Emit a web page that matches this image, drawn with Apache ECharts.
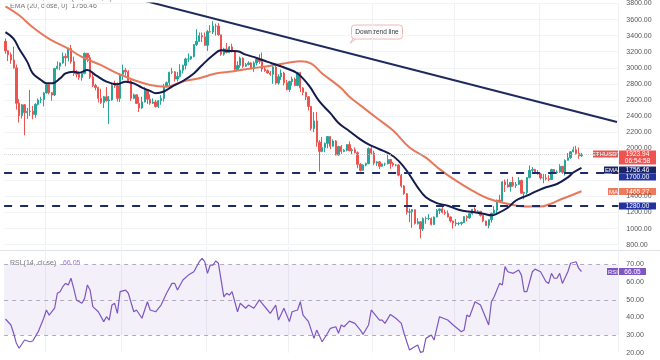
<!DOCTYPE html>
<html><head><meta charset="utf-8">
<script src="https://cdn.jsdelivr.net/npm/echarts@6/dist/echarts.min.js"></script>
<style>html,body{margin:0;padding:0;background:#fff}#c{width:660px;height:360px}</style>
</head><body><div id="c"></div>
<script>
// ETHUSDT daily candles, Jan 17 2022 -> Aug 16 2022 : [open, close, low, high]
const candles = [
[3330,3212,3175,3365],[3212,3164,3085,3218],[3164,3096,3050,3190],[3096,3000,2990,3262],[3000,2560,2480,3040],
[2560,2406,2320,2610],[2406,2540,2370,2550],[2540,2442,2160,2550],[2442,2458,2365,2500],[2458,2460,2400,2725],
[2460,2420,2360,2525],[2420,2546,2380,2560],[2546,2600,2530,2620],[2600,2605,2560,2640],[2605,2688,2520,2700],
[2688,2790,2680,2810],[2790,2690,2670,2810],[2690,2662,2590,2700],[2662,2990,2650,3000],[2990,3020,2980,3080],
[3020,3060,2970,3065],[3060,3143,3050,3190],[3143,3125,3020,3180],[3125,3240,3080,3250],[3240,3078,3050,3285],
[3078,2930,2900,3140],[2930,2920,2880,2970],[2920,2880,2850,2950],[2880,2930,2840,2940],[2930,3180,2920,3190],
[3180,3125,3070,3180],[3125,2885,2860,3160],[2885,2780,2760,2950],[2780,2755,2720,2800],[2755,2620,2570,2765],
[2620,2570,2550,2740],[2570,2640,2500,2650],[2640,2590,2580,2760],[2590,2600,2300,2650],[2600,2780,2590,2800],
[2780,2777,2750,2840],[2777,2620,2580,2820],[2620,2920,2575,2930],[2920,2970,2850,3040],[2970,2950,2900,3000],
[2950,2834,2810,2970],[2834,2620,2590,2850],[2620,2664,2610,2680],[2664,2557,2550,2670],[2557,2500,2450,2640],
[2500,2575,2490,2640],[2575,2725,2570,2760],[2725,2610,2550,2730],[2610,2560,2540,2670],[2560,2575,2550,2620],
[2575,2520,2505,2600],[2520,2590,2500,2600],[2590,2620,2540,2660],[2620,2770,2580,2800],[2770,2815,2760,2830],
[2815,2945,2750,2950],[2945,2950,2920,3000],[2950,2860,2830,2960],[2860,2895,2830,2950],[2895,2970,2880,3045],
[2970,3030,2930,3040],[3030,3110,2980,3125],[3110,3110,3070,3180],[3110,3140,3100,3150],[3140,3290,3130,3290],
[3290,3330,3270,3480],[3330,3400,3320,3440],[3400,3385,3320,3440],[3385,3280,3275,3440],[3280,3450,3210,3470],
[3450,3445,3440,3530],[3445,3520,3420,3580],[3520,3520,3400,3550],[3520,3410,3400,3555],[3410,3170,3150,3410],
[3170,3235,3150,3250],[3235,3190,3180,3310],[3190,3260,3180,3270],[3260,3210,3190,3300],[3210,2980,2960,3220],
[2980,3030,2970,3080],[3030,3120,3000,3140],[3120,3020,3000,3130],[3020,3040,3010,3060],[3040,3060,3030,3080],
[3060,2990,2985,3070],[2990,3060,2950,3080],[3060,3105,3030,3120],[3105,3080,3050,3170],[3080,2985,2950,3190],
[2985,2965,2950,3020],[2965,2935,2930,2980],[2935,2920,2900,2960],[2920,3010,2800,3025],[3010,2810,2790,3040],
[2810,2890,2790,2920],[2890,2935,2850,2980],[2935,2815,2780,2950],[2815,2730,2720,2850],[2730,2830,2700,2840],
[2830,2860,2780,2890],[2860,2780,2770,2880],[2780,2940,2770,2950],[2940,2750,2700,2950],[2750,2695,2660,2760],
[2695,2640,2600,2700],[2640,2520,2470,2650],[2520,2245,2220,2525],[2245,2340,2200,2450],[2340,2075,2020,2450],
[2075,1960,1710,2100],[1960,2010,1950,2140],[2010,2060,1950,2070],[2060,2145,2000,2150],[2145,2025,1990,2150],
[2025,2090,2020,2110],[2090,1915,1910,2100],[1915,2020,1905,2030],[2020,1960,1930,2040],[1960,1975,1950,1990],
[1975,2045,1960,2050],[2045,1970,1960,2085],[1970,1980,1925,2000],[1980,1945,1935,2010],[1945,1800,1750,1960],
[1800,1725,1710,1815],[1725,1790,1720,1800],[1790,1810,1775,1820],[1810,1995,1800,2010],[1995,1940,1920,2015],
[1940,1815,1790,1970],[1815,1830,1780,1840],[1830,1775,1740,1840],[1775,1805,1770,1810],[1805,1805,1780,1820],
[1805,1860,1800,1920],[1860,1810,1745,1865],[1810,1790,1770,1830],[1790,1790,1775,1800],[1790,1665,1650,1800],
[1665,1530,1510,1680],[1530,1435,1420,1540],[1435,1205,1175,1440],[1205,1210,1080,1250],[1210,1235,1010,1245],
[1235,1065,1050,1240],[1065,1085,1050,1130],[1085,995,880,1090],[995,1125,970,1140],[1125,1125,1060,1150],
[1125,1125,1105,1180],[1125,1050,1040,1140],[1050,1145,1045,1150],[1145,1225,1140,1245],[1225,1245,1180,1250],
[1245,1200,1190,1280],[1200,1190,1170,1235],[1190,1145,1140,1225],[1145,1095,1075,1150],[1095,1070,1000,1100],
[1070,1060,1030,1120],[1060,1065,1040,1080],[1065,1075,1040,1085],[1075,1150,1070,1155],[1150,1135,1090,1165],
[1135,1185,1120,1195],[1185,1240,1175,1245],[1240,1215,1195,1265],[1215,1215,1205,1230],[1215,1165,1150,1220],
[1165,1095,1080,1170],[1095,1040,1035,1100],[1040,1110,1005,1115],[1110,1190,1075,1200],[1190,1230,1180,1280],
[1230,1355,1190,1360],[1355,1340,1330,1420],[1340,1580,1335,1590],[1580,1545,1455,1610],[1545,1520,1510,1620],
[1520,1575,1460,1580],[1575,1535,1520,1645],[1535,1550,1505,1580],[1550,1600,1545,1640],[1600,1440,1435,1610],
[1440,1450,1365,1460],[1450,1635,1425,1640],[1635,1725,1625,1785],[1725,1735,1690,1765],[1735,1695,1680,1745],
[1695,1680,1670,1730],[1680,1630,1610,1690],[1630,1630,1565,1680],[1630,1620,1600,1680],[1620,1610,1590,1665],
[1610,1735,1605,1745],[1735,1695,1690,1740],[1695,1705,1680,1725],[1705,1775,1695,1800],[1775,1700,1680,1780],
[1700,1850,1660,1860],[1850,1880,1845,1940],[1880,1955,1870,1960],[1955,1980,1950,2020],[1980,1935,1920,2030],
[1935,1905,1870,2010],[1905,1923.94,1890,1940]
];
// EMA(20): [candle index, value]
const ema20 = [[0,3444],[3,3361],[5,3238],[8,3074],[10,2930],[13,2849],[15,2807],[17,2807],[20,2868],[22,2930],[25,2951],[27,2939],[30,2972],[33,2910],[37,2828],[41,2795],[44,2828],[47,2807],[50,2754],[53,2713],[55,2684],[58,2705],[61,2766],[65,2836],[69,2930],[72,3033],[76,3156],[79,3218],[81,3210],[85,3206],[88,3164],[92,3123],[96,3074],[99,3041],[103,2992],[107,2930],[111,2787],[115,2582],[119,2437],[122,2314],[126,2212],[130,2110],[133,2048],[137,1987],[141,1925],[144,1843],[147,1720],[151,1514],[154,1391],[158,1317],[162,1285],[166,1235],[171,1206],[175,1186],[178,1165],[180,1186],[184,1260],[187,1350],[191,1411],[195,1473],[198,1514],[202,1555],[206,1637],[208,1698],[211,1756.46]];
// MA(50)
const ma50 = [[0,3764],[5,3653],[10,3505],[16,3361],[23,3238],[28,3136],[35,3033],[41,2930],[47,2849],[53,2787],[59,2766],[65,2830],[71,2870],[77,2930],[83,2955],[90,2992],[96,3020],[102,3053],[104,3065],[108,3082],[112,3053],[116,2930],[120,2828],[123,2745],[126,2640],[129,2560],[136,2376],[142,2220],[148,2010],[154,1883],[159,1740],[165,1596],[171,1473],[177,1371],[184,1309],[190,1276],[196,1276],[199,1300],[204,1371],[211,1465.27]];
// RSI(14)
const rsi14 = [[0,39.1],[2,35.7],[3,31],[4,25.3],[5,22.5],[7,27.2],[9,26.2],[10,26.6],[12,31.9],[13,35.7],[14,39.5],[15,44.2],[16,41.3],[18,45.2],[19,53.7],[20,54.6],[21,57.4],[22,59.3],[23,58.4],[24,62.2],[25,56.5],[26,49.9],[28,48],[29,50.8],[30,58.4],[31,55.5],[32,46.1],[34,43.2],[36,37.6],[37,40.4],[38,38.5],[39,47],[40,48],[41,42.3],[42,54.6],[44,55.5],[45,53.7],[47,43.2],[48,44.2],[50,39.5],[52,48.9],[53,44.2],[55,43.2],[57,47],[59,53.7],[61,59.3],[62,59.3],[63,55.5],[65,61.2],[67,64],[69,65.9],[71,71.6],[72,73.5],[73,71.6],[74,65],[75,69.7],[76,69.7],[77,72],[78,70.7],[80,51.7],[81,53.7],[82,52.7],[83,54.6],[85,43.2],[86,48],[88,45.2],[89,47],[91,45.2],[93,49.9],[94,48],[96,44.2],[97,42.3],[99,47],[100,38.5],[102,45.2],[104,37.6],[105,43.2],[107,44.2],[108,48.9],[109,41.3],[111,37.6],[113,28.1],[114,32.8],[116,26.2],[118,31],[119,33.8],[121,34.7],[122,31],[123,35.7],[124,34.7],[126,37.9],[128,36.6],[130,32.8],[131,30.4],[133,35.7],[134,44.2],[135,42.3],[137,38.5],[138,38.5],[139,36.6],[141,41.7],[143,39.5],[145,36.6],[146,31],[147,26.2],[148,21.5],[149,22.5],[151,24.3],[152,20.2],[153,20.6],[154,28.1],[156,30],[157,27.2],[159,40.4],[162,38.5],[164,35.7],[167,31.9],[168,32.8],[169,41.3],[170,40.4],[172,48.9],[174,47],[177,35.7],[178,48.9],[179,51.7],[181,59.3],[182,58.4],[183,68.8],[184,65.9],[186,65],[188,66.9],[189,64],[190,54.6],[191,54.6],[193,65.9],[194,67.4],[196,65.9],[198,60.2],[199,59.3],[200,65],[201,62.2],[202,62.2],[203,65],[204,59.3],[206,65.9],[207,70.7],[209,71.6],[210,67.8],[211,66.05]];
// Downtrend line end points [index, price]
const trendLine = [[50,3842],[224,2326]];
const levels = [1700, 1280];
const lastPrice = 1923.94;
const rsiLevels = [70, 50, 30];
const monthLines = [15,43,74,104,135,165,196];

const padDays = 13;
const categories = [];
const d0 = new Date(2022,0,17);
for (let i=0;i<candles.length+padDays;i++){const d=new Date(d0);d.setDate(d0.getDate()+i);categories.push(d.toISOString().slice(0,10));}

const FONT = 'Liberation Sans';
const gridL = 4.1, gridR = 660 - (4.1 + categories.length*2.73);
const chart = echarts.init(document.getElementById('c'), null, {renderer:'canvas'});
const vLine = {show:true, interval:(i)=>monthLines.includes(i), lineStyle:{color:'#f0f1f4',width:1}};

function tag(x,y,w,h,text,color,fs){
  return {type:'group', z:100, children:[
    {type:'rect', shape:{x:x,y:y,width:w,height:h}, style:{fill:color}},
    {type:'text', x:x+w/2, y:y+h/2+0.5, style:{text:text, fill:'#fff', font:(fs||6.5)+'px '+FONT, align:'center', verticalAlign:'middle'}}
  ]};
}

chart.setOption({
  animation:false,
  backgroundColor:'#fff',
  grid:[
    {left:gridL, right:gridR, top:1.06, height:243.64},
    {left:gridL, right:gridR, top:246.9, height:105.75}
  ],
  xAxis:[
    {type:'category', data:categories, gridIndex:0, boundaryGap:true, axisLine:{show:false}, axisTick:{show:false}, axisLabel:{show:false}, splitLine:vLine},
    {type:'category', data:categories, gridIndex:1, boundaryGap:true, axisLine:{show:false}, axisTick:{show:false}, axisLabel:{show:false}, splitLine:vLine}
  ],
  yAxis:[
    {type:'value', gridIndex:0, position:'right', min:800, max:3800, interval:200, scale:true,
     axisLine:{show:false}, axisTick:{show:false},
     axisLabel:{margin:8, fontSize:7, color:'#555', fontFamily:FONT, formatter:(v)=> (v===1800||v===1600)?'':v.toFixed(2)},
     splitLine:{show:true, lineStyle:{color:'#f3f4f6',width:1}}},
    {type:'value', gridIndex:1, position:'right', min:20, max:80, interval:10,
     axisLine:{show:false}, axisTick:{show:false},
     axisLabel:{margin:8, fontSize:7, color:'#555', fontFamily:FONT, formatter:(v)=> v===80?'':v.toFixed(2)},
     splitLine:{show:false}}
  ],
  series:[
    {type:'candlestick', xAxisIndex:0, yAxisIndex:0, data:candles, barWidth:1.8,
     itemStyle:{color:'#26a69a', color0:'#ef5350', borderColor:'#26a69a', borderColor0:'#ef5350', borderWidth:1},
     markLine:{silent:true, symbol:'none', label:{show:false},
       data:[
         {yAxis:levels[0], lineStyle:{color:'#1d2b6b', width:2, type:[8,8]}},
         {yAxis:levels[1], lineStyle:{color:'#1d2b6b', width:2, type:[8,8]}},
         {yAxis:lastPrice, lineStyle:{color:'rgba(200,200,205,0.8)', width:1, type:'dotted'}}
       ]}},
    {type:'line', xAxisIndex:0, yAxisIndex:0, data:ma50, smooth:0.4, showSymbol:false, lineStyle:{color:'#e8785c', width:2}, z:3},
    {type:'line', xAxisIndex:0, yAxisIndex:0, data:ema20, smooth:0.4, showSymbol:false, lineStyle:{color:'#141b4d', width:2}, z:4},
    {type:'line', xAxisIndex:0, yAxisIndex:0, data:trendLine, showSymbol:false, clip:true, lineStyle:{color:'#1f2a5c', width:2}, z:5},
    {type:'line', xAxisIndex:1, yAxisIndex:1, data:rsi14, showSymbol:false, lineStyle:{color:'#7e57c2', width:1.2}, z:5,
     markArea:{silent:true, itemStyle:{color:'rgba(126,87,194,0.09)'}, data:[[{yAxis:30},{yAxis:70}]]},
     markLine:{silent:true, symbol:'none', label:{show:false}, lineStyle:{color:'#b2a9c4', width:1, type:[4,4]},
       data:rsiLevels.map(v=>({yAxis:v}))}}
  ],
  graphic:[
    {type:'line', shape:{x1:0,y1:250.5,x2:660,y2:250.5}, style:{stroke:'#e0e3eb', lineWidth:1}},
    {type:'text', x:10, y:-5, style:{text:'ETHUSDT, 1D  MA (50, close, 0)  1465.27', fill:'#777', font:'7px '+FONT}},
    {type:'text', x:10, y:3, style:{text:'EMA (20, close, 0)  1756.46', fill:'#777', font:'7px '+FONT}},
    {type:'text', x:10, y:257, style:{rich:{a:{fill:'#777',font:'7px '+FONT},b:{fill:'#9575cd',font:'7px '+FONT}}, text:'{a|RSI (14, close)}  {b|66.05}'}},
    {type:'group', z:90, children:[
      {type:'polyline', shape:{points:[[356,38.5],[350.5,43],[353,38.5]]}, style:{fill:'#fff', stroke:'#e7a6a6', lineWidth:0.8}},
      {type:'rect', shape:{x:351.5,y:25,width:51,height:14,r:3}, style:{fill:'#fff', stroke:'#e7a6a6', lineWidth:0.8}},
      {type:'text', x:377, y:32.5, style:{text:'Downtrend line', fill:'#333', font:'6.5px '+FONT, align:'center', verticalAlign:'middle'}}
    ]},
    tag(593,150.5,26,7,'ETHUSDT','#ef5350',6),
    {type:'group', z:100, children:[
      {type:'rect', shape:{x:619,y:150.5,width:37,height:14}, style:{fill:'#ef5350'}},
      {type:'text', x:637.5, y:154.3, style:{text:'1923.94', fill:'#fff', font:'6.5px '+FONT, align:'center', verticalAlign:'middle'}},
      {type:'text', x:637.5, y:161, style:{text:'06:54:58', fill:'#fff', font:'6.5px '+FONT, align:'center', verticalAlign:'middle'}}
    ]},
    tag(604,166.5,15,7,'EMA','#1a2466',6),
    tag(619,166.5,37,7,'1756.46','#1a2466'),
    tag(619,173.5,37,7,'1700.00','#2233a0'),
    tag(608,188,11,7,'MA','#ef7a5b',6),
    tag(619,188,37,7,'1465.27','#ef7a5b'),
    tag(619,202.5,37,7,'1280.00','#2233a0'),
    tag(607,268,12,7,'RSI','#7e57c2',6),
    tag(619,268,27,7,'66.05','#7e57c2')
  ]
});
</script></body></html>
